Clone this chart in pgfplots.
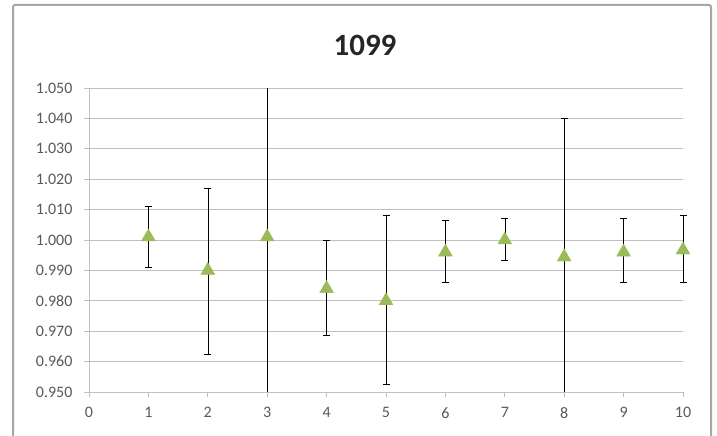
\documentclass[border=0pt]{standalone}
\usepackage{pgfplots}
\pgfplotsset{compat=1.18}
\usepackage{fontspec}
\setmainfont{Carlito}
\definecolor{xlgreen}{HTML}{9BBB59}
\definecolor{gridgray}{HTML}{BFBFBF}
\definecolor{labgray}{HTML}{595959}
\begin{document}
\begin{tikzpicture}[x=1pt,y=1pt]
\useasboundingbox (0,0) rectangle (717,436);
\draw[fill=white,draw=gray!70,line width=2pt,rounded corners=2pt] (13,-5) rectangle (711,431);
\node[font=\bfseries\fontsize{31}{34}\selectfont,text=black!85] at (365,391) {1099};
\begin{axis}[
  at={(89pt,44pt)}, anchor=south west,
  scale only axis, width=594pt, height=304pt,
  xmin=0, xmax=10, ymin=0.950, ymax=1.050,
  xtick={0,...,10},
  ytick={0.95,0.96,...,1.05},
  /pgf/number format/assume math mode=true,
  ticklabel style={font=\fontsize{16}{18}\selectfont, text=labgray},
  yticklabel style={/pgf/number format/fixed, /pgf/number format/fixed zerofill,
    /pgf/number format/precision=3, xshift=-8pt},
  xticklabel style={yshift=-7pt},
  axis x line*=bottom, axis y line*=left,
  axis line style={draw=gridgray, -},
  tick style={draw=gridgray, line width=0.8pt},
  tick align=outside, major tick length=5pt,
  ymajorgrids, grid style={draw=gridgray, line width=0.8pt},
  clip=false,
  errbar/.style={draw=none, mark=none, forget plot,
    error bars/y explicit,
    error bars/error bar style={black, line width=0.6pt},
    error bars/error mark options={rotate=90, mark size=3.5pt, black, line width=0.6pt}},
]
% regular error bars with caps
\addplot[errbar, error bars/y dir=both]
  table[x=x, y=y, y error plus=ep, y error minus=em] {
x  y      ep     em
1  1.001  0.010  0.010
2  0.990  0.027  0.0275
4  0.984  0.016  0.0155
5  0.980  0.028  0.0275
6  0.996  0.0105 0.010
7  1.000  0.007  0.0066
9  0.996  0.011  0.010
10 0.9967 0.0113 0.0105
};
\addplot[errbar, error bars/y dir=plus]
  table[x=x, y=y, y error plus=ep] {
x  y      ep
8  0.9944 0.0456
};
% bars running past the axis range (cut at the limits, no caps)
\addplot[errbar, error bars/y dir=minus, error bars/error mark=none]
  table[x=x, y=y, y error minus=em] {
x  y      em
3  1.001  0.051
8  0.9944 0.0444
};
\addplot[errbar, error bars/y dir=plus, error bars/error mark=none]
  table[x=x, y=y, y error plus=ep] {
x  y      ep
3  1.001  0.049
};
% markers
\addplot[only marks, mark=triangle*, mark size=8pt,
  mark options={fill=xlgreen, draw=xlgreen}]
  table[x=x, y=y] {
x  y
1  1.001
2  0.990
3  1.001
4  0.984
5  0.980
6  0.996
7  1.000
8  0.9944
9  0.996
10 0.9967
};
\end{axis}
\end{tikzpicture}
\end{document}
